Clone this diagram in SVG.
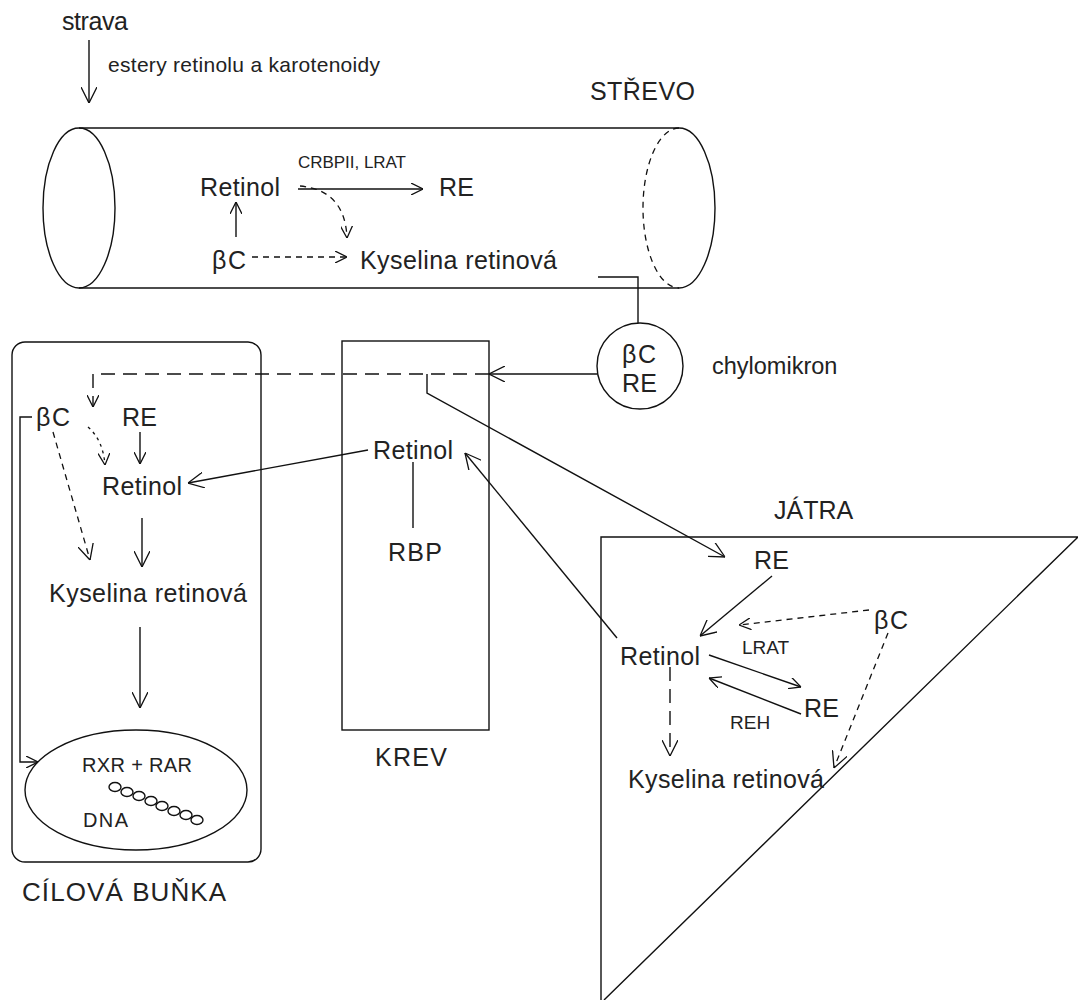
<svg xmlns="http://www.w3.org/2000/svg" width="1078" height="1000" viewBox="0 0 1078 1000">
<style>
text{font-family:"Liberation Sans",Arial,sans-serif;fill:#222;}
.b{font-size:25px;}
.s{font-size:17px;}
.m{font-size:20px;}
.ln{fill:none;stroke:#111;stroke-width:1.4;}
.dl{fill:none;stroke:#111;stroke-width:1.4;stroke-dasharray:14 8;}
.ds{fill:none;stroke:#111;stroke-width:1.3;stroke-dasharray:6 5;}
.dt{fill:none;stroke:#111;stroke-width:1.3;stroke-dasharray:3 4;}
</style>
<defs>
<marker id="arr" viewBox="0 0 12 12" refX="12" refY="6" markerWidth="12" markerHeight="12" markerUnits="userSpaceOnUse" orient="auto">
<path d="M0,0 L12,6 L0,12" fill="none" stroke="#111" stroke-width="1.3"/>
</marker>
<marker id="arrL" viewBox="0 0 16 16" refX="16" refY="8" markerWidth="16" markerHeight="16" markerUnits="userSpaceOnUse" orient="auto">
<path d="M0,0 L16,8 L0,16" fill="none" stroke="#111" stroke-width="1.3"/>
</marker>
</defs>
<rect width="1078" height="1000" fill="#fff"/>

<g id="strava">
<text class="b" x="62" y="30" textLength="66">strava</text>
</g>

<g id="strevo">
<line class="ln" x1="79" y1="128" x2="679" y2="128"/>
<line class="ln" x1="79" y1="288" x2="679" y2="288"/>
<ellipse class="ln" cx="79" cy="208" rx="36" ry="80"/>
<path class="ln" d="M679,128 A36,80 0 0 1 679,288"/>
<path class="ds" d="M679,128 A36,80 0 0 0 679,288"/>
<text class="b" x="590" y="100" textLength="105">STŘEVO</text>
</g>

<g id="strevo-retinol"><text class="b" x="200" y="196" textLength="80">Retinol</text></g>
<g id="strevo-re"><text class="b" x="439" y="196" textLength="35">RE</text></g>
<g id="strevo-bc"><text class="b" x="212" y="269" textLength="34">βC</text></g>
<g id="strevo-kyselina"><text class="b" x="360" y="269" textLength="197">Kyselina retinová</text></g>

<g id="chylomikron">
<circle class="ln" cx="640" cy="366" r="43"/>
<text class="b" x="622" y="363" textLength="34">βC</text>
<text class="b" x="622" y="392" textLength="35">RE</text>
<text x="712" y="374" font-size="23.5">chylomikron</text>
</g>

<g id="cilova-bunka">
<rect class="ln" x="12" y="342" width="249" height="520" rx="13"/>
<text x="22" y="901" font-size="26" textLength="204">CÍLOVÁ BUŇKA</text>
</g>
<g id="cell-bc"><text class="b" x="36" y="426" textLength="34">βC</text></g>
<g id="cell-re"><text class="b" x="122" y="426" textLength="35">RE</text></g>
<g id="cell-retinol"><text class="b" x="102" y="495" textLength="80">Retinol</text></g>
<g id="cell-kyselina"><text class="b" x="49" y="602" textLength="198">Kyselina retinová</text></g>
<g id="jadro">
<ellipse class="ln" cx="136" cy="790" rx="111" ry="60"/>
<text class="m" x="82" y="772" textLength="110">RXR + RAR</text>
<text class="m" x="83" y="827" textLength="45">DNA</text>
<g class="ln" stroke-width="1.2">
<ellipse cx="115" cy="787" rx="6" ry="4.5"/>
<ellipse cx="127" cy="792" rx="6" ry="4.5"/>
<ellipse cx="139" cy="796" rx="6" ry="4.5"/>
<ellipse cx="151" cy="801" rx="6" ry="4.5"/>
<ellipse cx="162" cy="806" rx="6" ry="4.5"/>
<ellipse cx="174" cy="811" rx="6" ry="4.5"/>
<ellipse cx="186" cy="815" rx="6" ry="4.5"/>
<ellipse cx="197" cy="820" rx="6" ry="4.5"/>
</g>
</g>

<g id="krev">
<rect class="ln" x="342" y="341" width="147" height="389"/>
<text class="b" x="375" y="766" textLength="72">KREV</text>
</g>
<g id="krev-retinol"><text class="b" x="373" y="459" textLength="80">Retinol</text></g>
<g id="krev-rbp"><text class="b" x="388" y="561" textLength="54">RBP</text></g>

<g id="jatra">
<path class="ln" d="M1078,537 L601,537 L601,1000 M1078,537 L604,1000"/>
<text class="b" x="774" y="519">JÁTRA</text>
</g>
<g id="jatra-re1"><text class="b" x="754" y="569" textLength="35">RE</text></g>
<g id="jatra-bc"><text class="b" x="874" y="629" textLength="34">βC</text></g>
<g id="jatra-retinol"><text class="b" x="620" y="665" textLength="80">Retinol</text></g>
<g id="jatra-re2"><text class="b" x="804" y="717" textLength="35">RE</text></g>
<g id="jatra-kyselina"><text class="b" x="628" y="788" textLength="196">Kyselina retinová</text></g>

<g id="connectors">
<line class="ln" x1="89" y1="40" x2="89" y2="103" marker-end="url(#arrL)"/>
<text x="108" y="72" font-size="21" textLength="272">estery retinolu a karotenoidy</text>
<!-- tube -->
<line class="ln" x1="236" y1="237" x2="236" y2="202" marker-end="url(#arr)"/>
<line class="ln" x1="298" y1="189" x2="423" y2="189" marker-end="url(#arr)"/>
<text class="s" x="298" y="168" textLength="108">CRBPII, LRAT</text>
<path class="ds" d="M300,186 Q345,190 347,238" marker-end="url(#arr)"/>
<line class="ds" x1="252" y1="257" x2="347" y2="257" marker-end="url(#arr)"/>
<polyline class="ln" points="598,277 638,277 638,323"/>
<!-- chylomikron to blood -->
<line class="ln" x1="597" y1="374" x2="489" y2="374" marker-end="url(#arrL)"/>
<polyline class="dl" points="489,374 93,374 93,407" marker-end="url(#arr)"/>
<polyline class="ln" points="427,374 427,393 725,557" marker-end="url(#arrL)"/>
<!-- blood -->
<line class="ln" x1="413" y1="462" x2="413" y2="528"/>
<line class="ln" x1="368" y1="450" x2="188" y2="483" marker-end="url(#arrL)"/>
<line class="ln" x1="617" y1="638" x2="465" y2="453" marker-end="url(#arrL)"/>
<!-- cell -->
<line class="ln" x1="140" y1="432" x2="140" y2="464" marker-end="url(#arr)"/>
<path class="dt" d="M88,427 Q103,440 105,465" marker-end="url(#arr)"/>
<line class="ds" x1="53" y1="432" x2="90" y2="560" marker-end="url(#arrL)"/>
<line class="ln" x1="142" y1="518" x2="142" y2="567" marker-end="url(#arrL)"/>
<line class="ln" x1="140" y1="627" x2="140" y2="708" marker-end="url(#arrL)"/>
<polyline class="ln" points="32,417 20,417 20,762 38,762" marker-end="url(#arr)"/>
<!-- liver -->
<line class="ln" x1="772" y1="576" x2="700" y2="636" marker-end="url(#arrL)"/>
<line class="ds" x1="869" y1="610" x2="739" y2="625" marker-end="url(#arr)"/>
<text x="742" y="654" font-size="19">LRAT</text>
<line class="ln" x1="709" y1="655" x2="801" y2="687" marker-end="url(#arr)"/>
<line class="ln" x1="801" y1="714" x2="709" y2="678" marker-end="url(#arr)"/>
<text x="730" y="729" font-size="19">REH</text>
<line class="dl" x1="670" y1="667" x2="670" y2="756" marker-end="url(#arrL)"/>
<line class="ds" x1="888" y1="633" x2="834" y2="768" marker-end="url(#arrL)"/>
</g>
</svg>
